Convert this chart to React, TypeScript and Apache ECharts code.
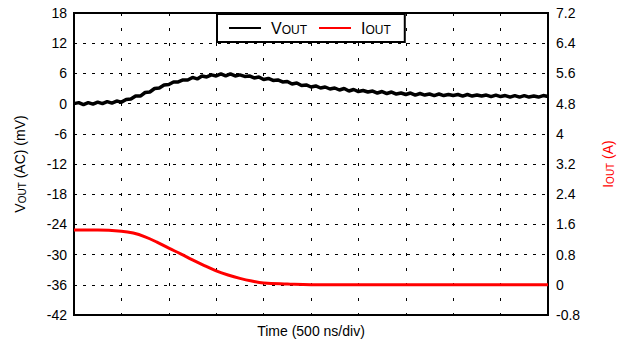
import React, { useEffect, useRef } from "react";
import * as echarts from "echarts";

const VOUT_STEP = 0.1; // divisions between samples
const VOUT_MV = [
  0.0, 0.2, -0.2, 0.2, -0.1, 0.3, 0.0, 0.4, 0.1, 0.5, 0.3,
  0.8, 0.9, 1.5, 1.5, 2.2, 2.3, 3.0, 3.1, 3.7, 3.8,
  4.3, 4.3, 4.7, 4.7, 5.2, 4.9, 5.5, 5.3, 5.7, 5.5,
  5.9, 5.5, 5.9, 5.5, 5.7, 5.4, 5.5, 5.1, 5.3, 4.8,
  5.0, 4.6, 4.7, 4.3, 4.4, 3.9, 4.1, 3.6, 3.7, 3.3,
  3.5, 3.1, 3.3, 2.9, 3.1, 2.7, 3.0, 2.5, 2.8, 2.4,
  2.6, 2.3, 2.5, 2.1, 2.4, 2.0, 2.3, 1.9, 2.1, 1.8,
  2.1, 1.7, 2.0, 1.7, 1.9, 1.6, 1.9, 1.6, 1.8, 1.6,
  1.8, 1.5, 1.8, 1.5, 1.7, 1.5, 1.7, 1.4, 1.7, 1.4,
  1.6, 1.3, 1.6, 1.3, 1.6, 1.3, 1.5, 1.3, 1.6, 1.4,
];

const IOUT_T = [0, 0.5, 1, 1.25, 1.5, 1.75, 2, 2.25, 2.5, 2.75, 3, 3.25, 3.5, 3.75, 4, 4.5, 5, 6, 7, 8, 9, 10];
const IOUT_A = [1.45, 1.45, 1.42, 1.37, 1.27, 1.13, 0.97, 0.82, 0.66, 0.51, 0.37, 0.26, 0.17, 0.1, 0.05, 0.02, 0.0, 0.0, 0.0, 0.0, 0.0, 0.0];

const LEFT_MIN = -42, LEFT_MAX = 18, LEFT_STEP = 6;
const RIGHT_MIN = -0.8, RIGHT_MAX = 7.2, RIGHT_STEP = 0.8;
const X_MIN = 0, X_MAX = 10, X_STEP = 1;

const FONT = "Liberation Sans, Arial, sans-serif";

export default function App() {
  const ref = useRef<HTMLDivElement>(null);
  useEffect(() => {
    const chart = echarts.init(ref.current!, null, { renderer: "svg" });
    const voutData = VOUT_MV.map((v, i) => [i * VOUT_STEP, v]);
    const ioutData = IOUT_T.map((t, i) => [t, IOUT_A[i]]);
    chart.setOption({
      animation: false,
      textStyle: { fontFamily: FONT },
      grid: {
        left: 74, right: 77, top: 13, bottom: 30,
        show: true, borderColor: "#000", borderWidth: 2, backgroundColor: "transparent",
      },
      legend: {
        left: 217, top: 14,
        padding: [6, 14, 6, 12],
        itemGap: 12,
        itemWidth: 32, itemHeight: 2,
        icon: "rect",
        borderColor: "#000", borderWidth: 2, backgroundColor: "#fff",
        formatter: (n: string) => (n === "VOUT" ? "{a|V}{b|OUT}" : "{a|I}{b|OUT}"),
        textStyle: {
          padding: [0, 0, 0, 5],
          rich: {
            a: { fontSize: 16, fontFamily: FONT, color: "#000", verticalAlign: "bottom" },
            b: { fontSize: 12, fontFamily: FONT, color: "#000", verticalAlign: "bottom" },
          },
        },
        data: ["VOUT", "IOUT"],
      },
      xAxis: {
        type: "value", min: X_MIN, max: X_MAX, interval: X_STEP,
        name: "Time (500 ns/div)", nameLocation: "middle", nameGap: 9,
        nameTextStyle: { fontSize: 14, color: "#000", fontFamily: FONT },
        axisLine: { show: true, onZero: false, lineStyle: { color: "#000", width: 2 } },
        axisTick: { show: false },
        axisLabel: { show: false },
        splitLine: { show: true, lineStyle: { color: "#000", width: 1, type: [3, 12] } },
      },
      yAxis: [
        {
          type: "value", min: LEFT_MIN, max: LEFT_MAX, interval: LEFT_STEP, position: "left",
          name: "{a|V}{b|OUT}{a| (AC) (mV)}", nameLocation: "middle", nameRotate: 90, nameGap: 47,
          nameTextStyle: {
            rich: {
              a: { fontSize: 14, color: "#000", fontFamily: FONT, verticalAlign: "bottom" },
              b: { fontSize: 10, color: "#000", fontFamily: FONT, verticalAlign: "bottom" },
            },
          },
          axisLine: { show: true, onZero: false, lineStyle: { color: "#000", width: 2 } },
          axisTick: { show: false },
          axisLabel: { fontSize: 14, color: "#000", margin: 7, fontFamily: FONT },
          splitLine: { show: true, lineStyle: { color: "#000", width: 1, type: [3, 6] } },
        },
        {
          type: "value", min: RIGHT_MIN, max: RIGHT_MAX, interval: RIGHT_STEP, position: "right",
          name: "{a|I}{b|OUT}{a| (A)}", nameLocation: "middle", nameRotate: 90, nameGap: 53,
          nameTextStyle: {
            rich: {
              a: { fontSize: 14, color: "#f00", fontFamily: FONT, verticalAlign: "bottom" },
              b: { fontSize: 10, color: "#f00", fontFamily: FONT, verticalAlign: "bottom" },
            },
          },
          axisLine: { show: true, onZero: false, lineStyle: { color: "#000", width: 2 } },
          axisTick: { show: false },
          axisLabel: {
            fontSize: 14, color: "#000", margin: 8, fontFamily: FONT,
            formatter: (v: number) => String(Math.round(v * 10) / 10),
          },
          splitLine: { show: false },
        },
      ],
      series: [
        {
          name: "VOUT", type: "line", yAxisIndex: 0, data: voutData,
          symbol: "none", color: "#000",
          lineStyle: { color: "#000", width: 3.5 },
          z: 3,
        },
        {
          name: "IOUT", type: "line", yAxisIndex: 1, data: ioutData,
          symbol: "none", smooth: 0.4, color: "#f00",
          lineStyle: { color: "#f00", width: 3 },
          z: 3,
        },
      ],
    });
    return () => chart.dispose();
  }, []);
  return (
    <div
      ref={ref}
      style={{ position: "fixed", left: 0, top: 0, width: 625, height: 345, background: "#fff" }}
    />
  );
}
